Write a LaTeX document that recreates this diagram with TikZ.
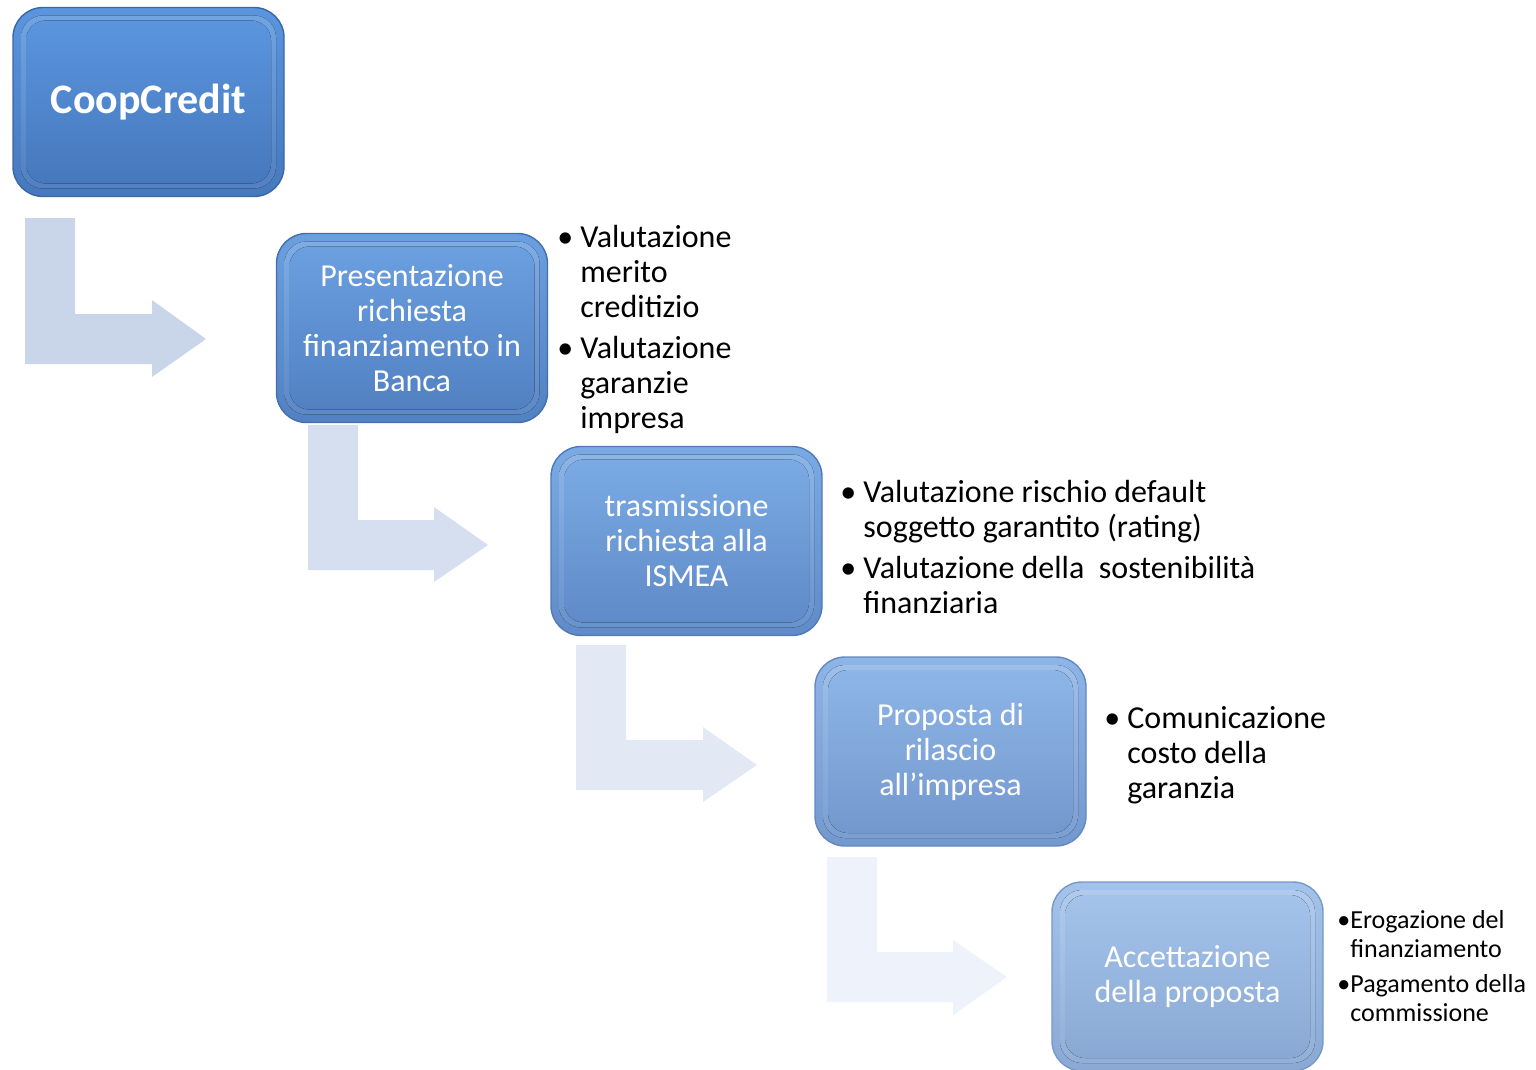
\documentclass[tikz,border=0pt]{standalone}
\usepackage{fontspec}
\setmainfont{Carlito}
\definecolor{bAtop}{HTML}{5A95DE}\definecolor{bAbot}{HTML}{4678BC}\definecolor{bAbd}{HTML}{3A66A6}
\definecolor{bBtop}{HTML}{6A9FE0}\definecolor{bBbot}{HTML}{5281C2}\definecolor{bBbd}{HTML}{446FAE}
\definecolor{bCtop}{HTML}{7AAAE3}\definecolor{bCbot}{HTML}{5F8BC8}\definecolor{bCbd}{HTML}{5079B6}
\definecolor{bDtop}{HTML}{8EB5E7}\definecolor{bDbot}{HTML}{7398CE}\definecolor{bDbd}{HTML}{6388C0}
\definecolor{bEtop}{HTML}{A4C3EB}\definecolor{bEbot}{HTML}{89A9D4}\definecolor{bEbd}{HTML}{7898C6}
\definecolor{arA}{HTML}{C9D5E9}
\definecolor{arB}{HTML}{D6DFF0}
\definecolor{arC}{HTML}{E2E9F5}
\definecolor{arD}{HTML}{EEF2FA}
\tikzset{
  stepbox/.style={rounded corners=15pt, minimum width=135.5pt, minimum height=94.5pt,
    top color=#1top, bottom color=#1bot, draw=#1bd, line width=0.7pt,
    text=white, align=center, inner sep=0pt,
    font=\fontsize{16}{17.5}\selectfont,
    path picture={
      \fill[top color=#1top!85!white, bottom color=#1bot!95!white, rounded corners=11pt]
        ([shift={(4pt,-4pt)}]path picture bounding box.north west) rectangle
        ([shift={(-4pt,4pt)}]path picture bounding box.south east);
      \fill[top color=#1top, bottom color=#1bot, rounded corners=10pt]
        ([shift={(6.5pt,-6.5pt)}]path picture bounding box.north west) rectangle
        ([shift={(-6.5pt,6.5pt)}]path picture bounding box.south east);
    }},
  bentarrow/.style={fill=#1, draw=none},
  bullets/.style={anchor=base west, inner sep=0pt, align=left, text=black,
    font=\fontsize{16}{17.5}\selectfont},
  smallbullets/.style={anchor=base west, inner sep=0pt, align=left, text=black,
    font=\fontsize{13}{14.5}\selectfont}
}
\begin{document}
\begin{tikzpicture}[x=0.5pt,y=-0.5pt]
\useasboundingbox (0,0) rectangle (1536,1070);
% bent arrows
\fill[bentarrow=arA] (25,218) -- (75,218) -- (75,314) -- (152,314) -- (152,300) -- (206,339) -- (152,377) -- (152,364) -- (25,364) -- cycle;
\fill[bentarrow=arB] (308,425) -- (358,425) -- (358,520) -- (434,520) -- (434,507) -- (488,545) -- (434,582) -- (434,570) -- (308,570) -- cycle;
\fill[bentarrow=arC] (576,645) -- (626,645) -- (626,740) -- (703,740) -- (703,727) -- (757,765) -- (703,802) -- (703,790) -- (576,790) -- cycle;
\fill[bentarrow=arD] (827,857) -- (877,857) -- (877,952) -- (953,952) -- (953,940) -- (1007,977) -- (953,1015) -- (953,1002) -- (827,1002) -- cycle;
% boxes
\node[stepbox=bA, font=\fontsize{21}{23}\selectfont\bfseries] (b1) at (148.5,102) {CoopCredit};
\node[stepbox=bB] (b2) at (412,328) {Presentazione\\richiesta\\finanziamento in\\Banca};
\node[stepbox=bC] (b3) at (686.5,541) {trasmissione\\richiesta alla\\ISMEA};
\node[stepbox=bD] (b4) at (950.5,751.5) {Proposta di\\rilascio\\all’impresa};
\node[stepbox=bE] (b5) at (1187.5,976.5) {Accettazione\\della proposta};
% bullet lists
\node[bullets] (l1) at (557,247.5) {\begin{tabular}[t]{@{}l@{}l@{}}
\makebox[11.5pt][l]{\textbullet} & Valutazione\\ & merito\\ & creditizio\\[3pt]
\textbullet & Valutazione\\ & garanzie\\ & impresa\end{tabular}};
\node[bullets] (l2) at (840,502.5) {\begin{tabular}[t]{@{}l@{}l@{}}
\makebox[11.5pt][l]{\textbullet} & Valutazione rischio default\\ & soggetto garantito (rating)\\[3pt]
\textbullet & Valutazione della\ \ sostenibilità\\ & finanziaria\end{tabular}};
\node[bullets] (l3) at (1104,728.5) {\begin{tabular}[t]{@{}l@{}l@{}}
\makebox[11.5pt][l]{\textbullet} & Comunicazione\\ & costo della\\ & garanzia\end{tabular}};
\node[smallbullets] (l4) at (1337,928.5) {\begin{tabular}[t]{@{}l@{}l@{}}
\makebox[5.5pt][l]{\textbullet} & Erogazione del\\ & finanziamento\\[3pt]
\textbullet & Pagamento della\\ & commissione\end{tabular}};
\end{tikzpicture}
\end{document}
